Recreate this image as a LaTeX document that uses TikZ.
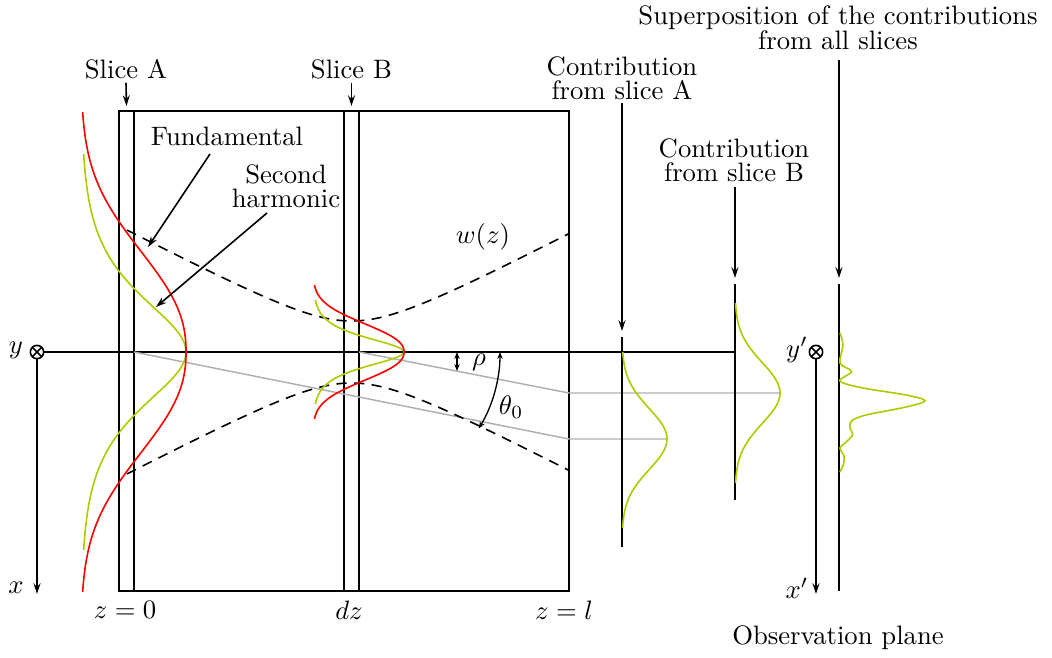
\documentclass[tikz,border=0pt]{standalone}
\usetikzlibrary{arrows.meta}
\definecolor{fundc}{RGB}{255,0,0}
\definecolor{shgc}{RGB}{170,205,0}
\definecolor{rayc}{RGB}{175,175,175}
\begin{document}
\begin{tikzpicture}[x=0.375pt,y=-0.375pt,
  every node/.style={inner sep=0pt,outer sep=0pt},
  lbl/.style={align=center},
  main/.style={line width=0.6pt},
  arr/.style={main,-{Stealth[length=4pt,width=2.6pt]}},
  smallarr/.style={line width=0.5pt,{Stealth[length=2.6pt,width=2pt]}-{Stealth[length=2.6pt,width=2pt]}},
  fund/.style={line width=0.6pt,fundc},
  shg/.style={line width=0.6pt,shgc},
  ray/.style={line width=0.55pt,rayc},
  beam/.style={line width=0.6pt,dash pattern=on 3.8pt off 2.8pt},
  otimes/.style={circle,draw,line width=0.6pt,minimum size=5pt,inner sep=0pt,
    path picture={\draw[line width=0.6pt] (path picture bounding box.north west) -- (path picture bounding box.south east)
      (path picture bounding box.north east) -- (path picture bounding box.south west);}}
]
\useasboundingbox (0,0) rectangle (1052,658);

% crystal box and slices
\draw[main] (119,111) rectangle (569,591);
\draw[main] (134,111) -- (134,591);
\draw[main] (344,111) -- (344,591);
\draw[main] (359,111) -- (359,591);

% coordinate systems
\node[otimes] (yc) at (37,352) {};
\node (ylab) at (16,350) {$y$};
\node (xlab) at (16,588) {$x$};
\coordinate (xend) at (37,594);
\draw[arr] (yc.south) -- (xend);
\coordinate (axisend) at (735,352);
\draw[main] (yc.east) -- (axisend);

\node[otimes] (ypc) at (816,352) {};
\node (yplab) at (797,350) {$y'$};
\node (xplab) at (797,588) {$x'$};
\coordinate (xpend) at (816,594);
\draw[arr] (ypc.south) -- (xpend);

% rays (grey)
\coordinate (rA0) at (134,352);
\coordinate (rA1) at (569,439);
\coordinate (rA2) at (667,439);
\coordinate (rB0) at (359,352);
\coordinate (rB1) at (569,393);
\coordinate (rB2) at (779,393);
\draw[ray] (rA0) -- (rA1) -- (rA2);
\draw[ray] (rB0) -- (rB1) -- (rB2);

% beam waist w(z)
\draw[beam] plot[domain=127:569,samples=90] (\x,{352-31*sqrt(1+((\x-351.5)/59)^2)});
\draw[beam] plot[domain=127:569,samples=90] (\x,{352+31*sqrt(1+((\x-351.5)/59)^2)});
\node (wz) at (483,237) {$w(z)$};

% profiles at slice A
\draw[shg] plot[domain=-198:198,samples=133] ({81+105*exp(-1.5*(sqrt(1+(\x/60)^2)-1))},{352+\x});
\draw[fund] plot[domain=-240:240,samples=121] ({81+105*exp(-((abs(\x)+0.001)/129.5)^2.3)},{352+\x});
% profiles at slice B
\draw[shg] plot[domain=-52:52,samples=53] ({313+91*exp(-1.5*(sqrt(1+(\x/15.8)^2)-1))},{352+\x});
\draw[fund] plot[domain=-67:67,samples=68] ({313+91*exp(-((abs(\x)+0.001)/36.2)^2.3)},{352+\x});

% angles
\coordinate (rho1) at (457,352);
\coordinate (rho2) at (457,371);
\draw[smallarr] (rho1) -- (rho2);
\node (rho) at (479,362) {$\rho$};
\coordinate (th1) at (500,352);
\draw[smallarr] (th1) arc[start angle=0,end angle=-31,radius=55.7pt];
\node (theta) at (511,407) {$\theta_0$};

% slice labels
\node (sliceA) at (126,69) {Slice A};
\node (sliceB) at (351.5,69) {Slice B};
\coordinate (sAt) at (126.5,106);
\coordinate (sBt) at (351.5,106);
\draw[arr] ([yshift=-1.5pt]sliceA.south) -- (sAt);
\draw[arr] ([yshift=-1.5pt]sliceB.south) -- (sBt);

\node (fundl) at (227,136) {Fundamental};
\coordinate (fs) at (210,154);
\coordinate (ft) at (148,247);
\draw[arr] (fs) -- (ft);
\node[lbl] (shgl) at (286,186) {Second\\[-3pt]harmonic};
\coordinate (hs) at (267,213);
\coordinate (ht) at (156,307);
\draw[arr] (hs) -- (ht);

\node (z0) at (125,610) {$z=0$};
\node (dz) at (349,610) {$dz$};
\node (zl) at (564,610) {$z=l$};

% observation side
\node[lbl] (contA) at (622,78) {Contribution\\[-3pt]from slice A};
\node[lbl] (contB) at (734,160) {Contribution\\[-3pt]from slice B};
\node[lbl] (sup) at (838,28) {Superposition of the contributions\\[-2.8pt]from all slices};
\node (obs) at (838,638) {Observation plane};

\coordinate (cAa) at (622,103);
\coordinate (cAb) at (622,331);
\draw[arr] (cAa) -- (cAb);
\coordinate (cBa) at (735,187);
\coordinate (cBb) at (735,278);
\draw[arr] (cBa) -- (cBb);
\coordinate (sa) at (839,60);
\coordinate (sb) at (839,278);
\draw[arr] (sa) -- (sb);

\coordinate (lA1) at (622,337);
\coordinate (lA2) at (622,547);
\draw[main] (lA1) -- (lA2);
\coordinate (lB1) at (735,284);
\coordinate (lB2) at (735,500);
\draw[main] (lB1) -- (lB2);
\coordinate (lS1) at (839,284);
\coordinate (lS2) at (839,591);
\draw[main] (lS1) -- (lS2);

\draw[shg] plot[domain=-87:89,samples=90] ({622+45*exp(-(\x/43)^2)},{439+\x});
\draw[shg] plot[domain=-90:90,samples=90] ({735+45*exp(-(\x/43)^2)},{393+\x});
\draw[shg] plot[smooth,tension=0.55] coordinates {(840,333) (843,345) (840,363) (851.5,371.5) (840,381) (863,388) (906,395) (925,400.7) (906,407) (866,415) (851.5,421) (850,428) (852.5,435) (845,443) (840,448) (844,456) (843.5,464) (840,472)};
\end{tikzpicture}
\end{document}
